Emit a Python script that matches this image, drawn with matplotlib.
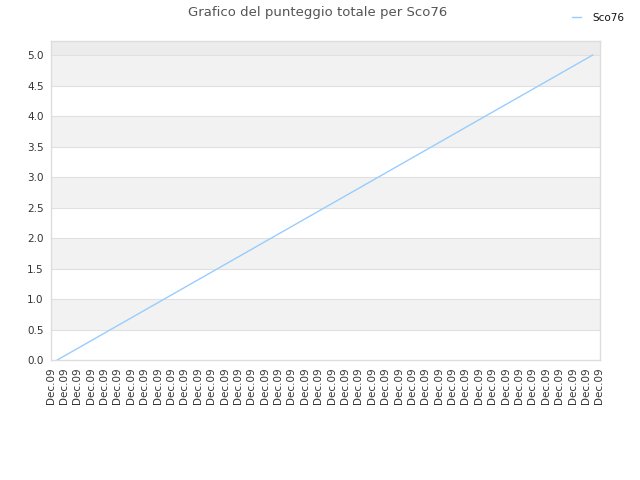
import matplotlib
matplotlib.use('Agg')
import matplotlib.pyplot as plt

# labels under the x axis (one per day, all "Dec.09")
x_labels = ['Dec.09'] * 42
# cumulative score, one point per interval
scores = [0.0, 0.125, 0.25, 0.375, 0.5, 0.625, 0.75, 0.875, 1.0, 1.125,
          1.25, 1.375, 1.5, 1.625, 1.75, 1.875, 2.0, 2.125, 2.25, 2.375,
          2.5, 2.625, 2.75, 2.875, 3.0, 3.125, 3.25, 3.375, 3.5, 3.625,
          3.75, 3.875, 4.0, 4.125, 4.25, 4.375, 4.5, 4.625, 4.75, 4.875,
          5.0]
score_x = [i + 0.5 for i in range(len(scores))]
y_ticks = [0.0, 0.5, 1.0, 1.5, 2.0, 2.5, 3.0, 3.5, 4.0, 4.5, 5.0]

fig = plt.figure(figsize=(6.4, 4.8), dpi=100)
ax = fig.add_axes([0.079, 0.25, 0.8585, 0.665])

ymax = 5.234
# alternating bands
for i, lo in enumerate(y_ticks[:-1]):
    if i % 2 == 1:
        ax.axhspan(lo, lo + 0.5, color='#f2f2f2', lw=0, zorder=0)
ax.axhspan(5.0, ymax, color='#ececec', lw=0, zorder=0)
for y in y_ticks[1:]:
    ax.axhline(y, color='#e0e0e0', lw=0.8, zorder=1)

ax.plot(score_x, scores, color='#99ccff', lw=1.0, label='Sco76', zorder=3)

ax.set_xlim(0, 41.05)
ax.set_ylim(0, ymax)
ax.set_xticks(range(len(x_labels)))
ax.set_xticklabels(x_labels, rotation=90, fontsize=7.5, color='#333333')
ax.set_yticks(y_ticks)
ax.set_yticklabels(['%.1f' % v for v in y_ticks], fontsize=7.5, color='#333333')
ax.tick_params(length=0, pad=5)
for s in ax.spines.values():
    s.set_color('#dddddd')
    s.set_linewidth(1.0)

fig.text(0.497, 0.974, 'Grafico del punteggio totale per Sco76', ha='center',
         va='center', fontsize=9.5, color='#555555')
fig.legend(loc='upper right', bbox_to_anchor=(0.99, 0.993), frameon=False,
           fontsize=7.5, handlelength=0.8, handletextpad=1.1,
           labelcolor='#111111')

plt.savefig('out.png', dpi=100)
